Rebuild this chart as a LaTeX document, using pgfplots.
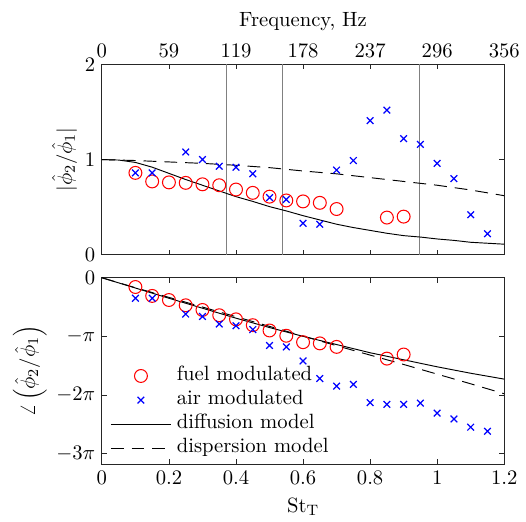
\documentclass[border=0pt]{standalone}
\usepackage{pgfplots}
\pgfplotsset{compat=1.18}
\definecolor{axgray}{rgb}{0.15,0.15,0.15}
\definecolor{vgray}{rgb}{0.5,0.5,0.5}
\pgfplotsset{
  every axis/.append style={font=\fontsize{10.95}{13.6}\selectfont},
  myaxis/.style={
    scale only axis, width=213.47pt,
    xmin=0, xmax=1.2,
    axis line style={draw=axgray, line width=0.42pt},
    tick style={draw=axgray, line width=0.42pt},
    major tick length=2.63pt, tick align=inside,
    xtick={0,0.2,0.4,0.6,0.8,1.0,1.2},
    clip=true,
  },
  fuel/.style={only marks, mark=o, mark size=3.42pt, red, line width=0.55pt},
  air/.style={only marks, mark=x, mark size=2.5pt, blue, line width=0.65pt},
  diff/.style={black, line width=0.5pt, no marks},
  disp/.style={black, line width=0.5pt, no marks, dash pattern=on 6.84pt off 4.21pt},
}
\begin{document}
\begin{tikzpicture}
\path (0pt,0pt) rectangle (276.84pt,-276.32pt);
% ---------- top axis ----------
\begin{axis}[myaxis, at={(54.05pt,-135.1pt)}, anchor=south west,
  height=100.89pt, ymin=0, ymax=2, ytick={0,1,2},
  xticklabels={0,59,119,178,237,296,356}, xticklabel pos=right,
  xlabel={Frequency, Hz},
  ylabel={$|\hat{\phi}_2/\hat{\phi}_1|$},
  ylabel style={at={(rel axis cs:0,0.5)}, anchor=center, yshift=19.85pt}]
\addplot[vgray, line width=0.42pt] coordinates {(0.372,0) (0.372,2)};
\addplot[vgray, line width=0.42pt] coordinates {(0.539,0) (0.539,2)};
\addplot[vgray, line width=0.42pt] coordinates {(0.946,0) (0.946,2)};
\addplot[fuel] coordinates {
(0.10,0.86) (0.15,0.77) (0.20,0.76) (0.25,0.755) (0.30,0.74) (0.35,0.73)
(0.40,0.685) (0.45,0.65) (0.50,0.61) (0.55,0.57) (0.60,0.56) (0.65,0.545)
(0.70,0.48) (0.85,0.39) (0.90,0.40)};
\addplot[air] coordinates {
(0.10,0.86) (0.15,0.86) (0.25,1.08) (0.30,1.00) (0.35,0.93) (0.40,0.92)
(0.45,0.85) (0.50,0.60) (0.55,0.58) (0.60,0.33) (0.65,0.32) (0.70,0.89)
(0.75,0.99) (0.80,1.41) (0.85,1.52) (0.90,1.22) (0.95,1.16) (1.00,0.96)
(1.05,0.80) (1.10,0.42) (1.15,0.22)};
\addplot[diff] coordinates {
(0,1.0) (0.05,0.995) (0.10,0.97) (0.15,0.92) (0.20,0.855) (0.25,0.79)
(0.30,0.73) (0.35,0.67) (0.40,0.61) (0.45,0.56) (0.50,0.505) (0.55,0.46)
(0.60,0.41) (0.65,0.365) (0.70,0.32) (0.75,0.285) (0.80,0.255) (0.85,0.225)
(0.90,0.20) (0.95,0.185) (1.00,0.165) (1.05,0.15) (1.10,0.13) (1.15,0.12) (1.20,0.11)};
\addplot[disp] coordinates {
(0,1.0) (0.1,0.99) (0.2,0.975) (0.3,0.96) (0.4,0.94) (0.5,0.915) (0.6,0.88)
(0.7,0.85) (0.8,0.81) (0.9,0.77) (1.0,0.73) (1.1,0.68) (1.2,0.62)};
\end{axis}
% ---------- bottom axis ----------
\begin{axis}[myaxis, at={(54.05pt,-246.3pt)}, anchor=south west,
  height=98.95pt, ymin=-3.183, ymax=0, ytick={-3,-2,-1,0},
  yticklabels={$-3\pi$,$-2\pi$,$-\pi$,$0$},
  xticklabels={0,0.2,0.4,0.6,0.8,1,1.2},
  xlabel={$\mathrm{St_T}$},
  ylabel={$\angle\left(\hat{\phi}_2/\hat{\phi}_1\right)$},
  ylabel style={at={(rel axis cs:0,0.5)}, anchor=center, yshift=38.25pt},
  legend style={draw=none, fill=none, at={(0.02,0.54)}, anchor=north west,
    row sep=0pt, inner sep=0pt,
    nodes={inner xsep=2.8pt, inner ysep=1pt, text height=7.8pt, text depth=3pt}},
  legend cell align=left,
  legend image code/.code={\draw[mark repeat=2,mark phase=2,#1] plot coordinates {(0pt,0pt) (16pt,0pt) (32pt,0pt)};}]
\addplot[fuel] coordinates {
(0.10,-0.158) (0.15,-0.31) (0.20,-0.38) (0.25,-0.47) (0.30,-0.55) (0.35,-0.64)
(0.40,-0.71) (0.45,-0.81) (0.50,-0.90) (0.55,-0.99) (0.60,-1.10) (0.65,-1.12)
(0.70,-1.18) (0.85,-1.38) (0.90,-1.31)};
\addlegendentry{fuel modulated}
\addplot[air] coordinates {
(0.10,-0.35) (0.15,-0.35) (0.25,-0.62) (0.30,-0.66) (0.35,-0.79) (0.40,-0.82)
(0.45,-0.885) (0.50,-1.156) (0.55,-1.18) (0.60,-1.42) (0.65,-1.72) (0.70,-1.85)
(0.75,-1.82) (0.80,-2.13) (0.85,-2.16) (0.90,-2.16) (0.95,-2.14) (1.00,-2.31)
(1.05,-2.41) (1.10,-2.55) (1.15,-2.62)};
\addlegendentry{air modulated}
\addplot[diff] coordinates {
(0,0) (0.1,-0.175) (0.2,-0.35) (0.3,-0.52) (0.4,-0.69) (0.5,-0.85) (0.6,-1.0)
(0.7,-1.14) (0.8,-1.28) (0.9,-1.40) (1.0,-1.52) (1.1,-1.63) (1.2,-1.73)};
\addlegendentry{diffusion model}
\addplot[disp] coordinates {
(0,0) (0.1,-0.17) (0.2,-0.335) (0.3,-0.50) (0.4,-0.665) (0.5,-0.83) (0.6,-0.995)
(0.7,-1.16) (0.8,-1.32) (0.9,-1.48) (1.0,-1.645) (1.1,-1.81) (1.2,-1.98)};
\addlegendentry{dispersion model}
\end{axis}
\end{tikzpicture}
\end{document}
